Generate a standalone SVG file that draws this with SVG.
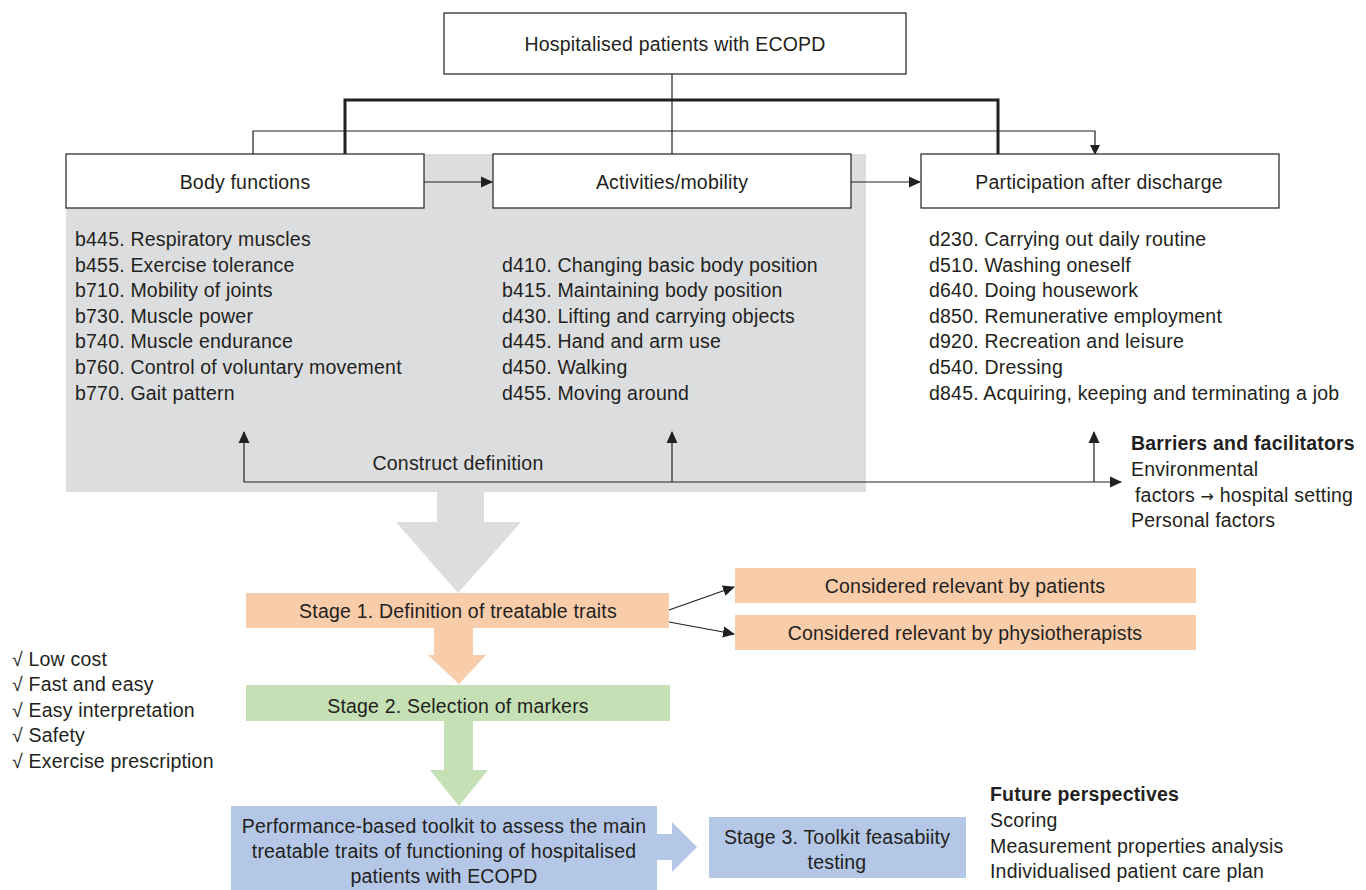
<svg xmlns="http://www.w3.org/2000/svg" width="1366" height="890" viewBox="0 0 1366 890">
<style>
text{font-family:"Liberation Sans","Open Sans",sans-serif;font-size:19.5px;letter-spacing:0.2px;fill:#231f20}
.c{text-anchor:middle}
.b{font-weight:bold}
.arr{font-family:"DejaVu Sans",sans-serif;font-size:16px}
.box{fill:#fff;stroke:#231f20;stroke-width:1.2}
.ln{fill:none;stroke:#231f20;stroke-width:1.2}
.thick{fill:none;stroke:#231f20;stroke-width:3}
.or{fill:#f9ccaa}
.gr{fill:#c5e0b4}
.bl{fill:#b4c7e7}
</style>
<defs>
<marker id="ah" markerWidth="10" markerHeight="10" refX="9" refY="5" orient="auto" markerUnits="userSpaceOnUse">
<path d="M0,0 L10,5 L0,10 Z" fill="#231f20"/>
</marker>
<marker id="ahs" markerWidth="12" markerHeight="12" refX="11" refY="6" orient="auto" markerUnits="userSpaceOnUse">
<path d="M0,0.5 L12,6 L0,11.5 Z" fill="#231f20"/>
</marker>
</defs>
<rect x="66" y="154" width="800" height="338" fill="#dcdddf"/>
<g id="connectors">
<path class="ln" d="M672,74 V155"/>
<path class="thick" d="M345,155 V100 H998 V155"/>
<path class="ln" d="M253,155 V131 H1095 V154" marker-end="url(#ah)"/>
<path class="ln" d="M424,182 H492" stroke-width="1.5" marker-end="url(#ahs)"/>
<path class="ln" d="M851,182 H920" stroke-width="1.5" marker-end="url(#ahs)"/>
<path class="ln" d="M244,482 H1121" stroke-width="2" marker-end="url(#ahs)"/>
<path class="ln" d="M244,482 V432" marker-end="url(#ahs)"/>
<path class="ln" d="M672,482 V432" marker-end="url(#ahs)"/>
<path class="ln" d="M1094,482 V432" marker-end="url(#ahs)"/>
<path class="ln" d="M669,610 L734,587" marker-end="url(#ahs)"/>
<path class="ln" d="M669,622 L734,634" marker-end="url(#ahs)"/>
<polygon fill="#dcdddf" points="437,492 484,492 484,522 521,522 458,593 396,522 437,522"/>
<polygon class="or" points="434,628 473,628 473,655 486,655 459,684 428,655 434,655"/>
<polygon class="gr" points="444,721 473,721 473,770 488,770 459,806 430,770 444,770"/>
<polygon class="bl" points="657,834 672,834 672,822 697,847 672,872 672,860 657,860"/>
</g>
<g id="top"><rect class="box" x="444" y="13" width="462" height="61"/><text class="c" x="675" y="51">Hospitalised patients with ECOPD</text></g>
<g id="body"><rect class="box" x="66" y="154" width="358" height="54"/><text class="c" x="245" y="189">Body functions</text></g>
<g id="activities"><rect class="box" x="493" y="154" width="358" height="54"/><text class="c" x="672" y="189">Activities/mobility</text></g>
<g id="participation"><rect class="box" x="921" y="154" width="358" height="54"/><text class="c" x="1099" y="189">Participation after discharge</text></g>
<g id="body-list">
<text x="75" y="246">b445. Respiratory muscles</text>
<text x="75" y="272">b455. Exercise tolerance</text>
<text x="75" y="297">b710. Mobility of joints</text>
<text x="75" y="323">b730. Muscle power</text>
<text x="75" y="348">b740. Muscle endurance</text>
<text x="75" y="374">b760. Control of voluntary movement</text>
<text x="75" y="400">b770. Gait pattern</text>
</g>
<g id="activities-list">
<text x="502" y="272">d410. Changing basic body position</text>
<text x="502" y="297">b415. Maintaining body position</text>
<text x="502" y="323">d430. Lifting and carrying objects</text>
<text x="502" y="348">d445. Hand and arm use</text>
<text x="502" y="374">d450. Walking</text>
<text x="502" y="400">d455. Moving around</text>
</g>
<g id="participation-list">
<text x="929" y="246">d230. Carrying out daily routine</text>
<text x="929" y="272">d510. Washing oneself</text>
<text x="929" y="297">d640. Doing housework</text>
<text x="929" y="323">d850. Remunerative employment</text>
<text x="929" y="348">d920. Recreation and leisure</text>
<text x="929" y="374">d540. Dressing</text>
<text x="929" y="400">d845. Acquiring, keeping and terminating a job</text>
</g>
<g id="construct"><text class="c" x="458" y="470">Construct definition</text></g>
<g id="barriers">
<text class="b" x="1131" y="450">Barriers and facilitators</text>
<text x="1131" y="476">Environmental</text>
<text x="1135" y="502">factors <tspan class="arr">→</tspan> hospital setting</text>
<text x="1131" y="527">Personal factors</text>
</g>
<g id="stage1"><rect class="or" x="246" y="593" width="423" height="35"/><text class="c" x="458" y="618">Stage 1. Definition of treatable traits</text></g>
<g id="patients"><rect class="or" x="735" y="568" width="461" height="35"/><text class="c" x="965" y="593">Considered relevant by patients</text></g>
<g id="physios"><rect class="or" x="735" y="615" width="461" height="35"/><text class="c" x="965" y="640">Considered relevant by physiotherapists</text></g>
<g id="checklist">
<text x="12" y="666">√ Low cost</text>
<text x="12" y="691">√ Fast and easy</text>
<text x="12" y="717">√ Easy interpretation</text>
<text x="12" y="742">√ Safety</text>
<text x="12" y="768">√ Exercise prescription</text>
</g>
<g id="stage2"><rect class="gr" x="246" y="685" width="424" height="36"/><text class="c" x="458" y="713">Stage 2. Selection of markers</text></g>
<g id="toolkit"><rect class="bl" x="231" y="806" width="426" height="84"/>
<text class="c" x="444" y="833">Performance-based toolkit to assess the main</text>
<text class="c" x="444" y="858">treatable traits of functioning of hospitalised</text>
<text class="c" x="444" y="883">patients with ECOPD</text></g>
<g id="stage3"><rect class="bl" x="709" y="817" width="257" height="61"/>
<text class="c" x="837" y="844">Stage 3. Toolkit feasabiity</text>
<text class="c" x="837" y="869">testing</text></g>
<g id="future">
<text class="b" x="990" y="801">Future perspectives</text>
<text x="990" y="827">Scoring</text>
<text x="990" y="853">Measurement properties analysis</text>
<text x="990" y="878">Individualised patient care plan</text>
</g>
</svg>
